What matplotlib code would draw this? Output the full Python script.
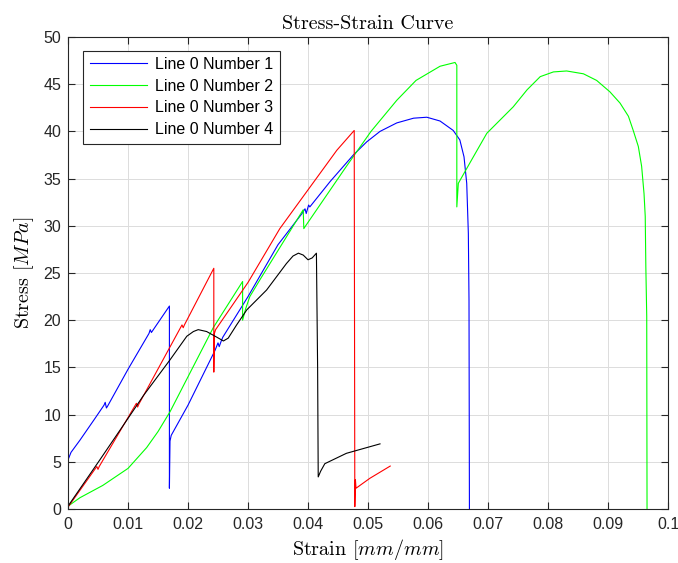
#!/usr/bin/env python3
"""
Stress-strain curves for four specimens, MATLAB-style figure.
"""

import matplotlib
matplotlib.use('Agg')
import matplotlib.pyplot as plt
from matplotlib.ticker import FuncFormatter, MultipleLocator

plt.rcParams['mathtext.fontset'] = 'cm'
plt.rcParams['axes.formatter.use_mathtext'] = True

# Specimen 1 (blue)
strain_1 = [0, 0.0005, 0.002, 0.0045, 0.006, 0.0062, 0.0064, 0.0066, 0.010, 0.0135,
            0.0137, 0.0139, 0.0169, 0.0169, 0.0170, 0.0172, 0.0200, 0.0245, 0.0250,
            0.0252, 0.0256, 0.0258, 0.030, 0.035, 0.0390, 0.0395, 0.0397, 0.0401,
            0.0403, 0.0437, 0.04755, 0.0498, 0.052, 0.0548, 0.0576, 0.0598, 0.062,
            0.0642, 0.0653, 0.0660, 0.06645, 0.06672, 0.06683, 0.0669]
stress_1 = [5.2, 6.0, 7.3, 9.6, 11.0, 11.3, 10.7, 10.9, 14.8, 18.6,
            19.0, 18.7, 21.5, 2.2, 7.2, 7.8, 11.0, 16.8, 17.6,
            17.2, 17.9, 18.2, 22.5, 28.0, 31.3, 31.8, 31.3, 32.2,
            32.0, 34.7, 37.5, 38.9, 40.0, 40.9, 41.4, 41.5, 41.1,
            40.1, 39.1, 37.3, 34.5, 29.2, 22.1, 0]

# Specimen 2 (green)
strain_2 = [0, 0.002, 0.0058, 0.0100, 0.0131, 0.0150, 0.017, 0.0242, 0.0291, 0.0291,
            0.0296, 0.0303, 0.032, 0.0392, 0.0393, 0.0395, 0.0464, 0.0505, 0.0548,
            0.058, 0.062, 0.0645, 0.0648, 0.0648, 0.06505, 0.06755, 0.0698, 0.072,
            0.0742, 0.0765, 0.0787, 0.0809, 0.0831, 0.0859, 0.0881, 0.0903, 0.092,
            0.0934, 0.0942, 0.09505, 0.0956, 0.0960, 0.0962, 0.0963, 0.09645, 0.0965]
stress_2 = [0.3, 1.2, 2.5, 4.3, 6.5, 8.2, 10.3, 19.2, 24.1, 20.0,
            21.2, 22.5, 24.3, 31.7, 29.7, 29.9, 36.3, 40.0, 43.3,
            45.4, 46.9, 47.3, 47.0, 32.0, 34.5, 37.3, 39.8, 41.2,
            42.6, 44.4, 45.8, 46.3, 46.4, 46.1, 45.4, 44.2, 43.0,
            41.6, 40.1, 38.4, 36.3, 33.4, 31.0, 25.7, 20.4, 0]

# Specimen 3 (red)
strain_3 = [0, 0.0048, 0.0050, 0.0052, 0.0114, 0.0116, 0.0118, 0.019, 0.0192, 0.0194,
            0.0243, 0.0243, 0.0244, 0.0246, 0.030, 0.0353, 0.0448, 0.0477, 0.0478,
            0.0479, 0.0480, 0.0503, 0.0537]
stress_3 = [0.2, 4.5, 4.2, 4.5, 11.2, 10.8, 11.1, 19.5, 19.2, 19.5,
            25.5, 14.5, 18.6, 19.0, 24.0, 29.7, 38.0, 40.1, 0.25,
            3.1, 2.2, 3.25, 4.55]

# Specimen 4 (black)
strain_4 = [0, 0.0053, 0.010, 0.01255, 0.017, 0.0198, 0.0209, 0.0217, 0.0231, 0.0248,
            0.0259, 0.0267, 0.0281, 0.0298, 0.0331, 0.0364, 0.0375, 0.0384, 0.0392,
            0.0400, 0.0407, 0.0414, 0.0416, 0.0417, 0.0421, 0.0428, 0.0464, 0.052]
stress_4 = [0.3, 5.2, 9.6, 12.0, 15.8, 18.3, 18.8, 19.0, 18.8, 18.2,
            17.8, 18.1, 19.5, 21.1, 23.2, 26.0, 26.8, 27.1, 26.9,
            26.4, 26.6, 27.1, 15.0, 3.4, 4.0, 4.8, 5.9, 6.9]

labels = ['Line 0 Number 1', 'Line 0 Number 2', 'Line 0 Number 3', 'Line 0 Number 4']
colors = ['#0000ff', '#00ff00', '#ff0000', '#000000']

fig = plt.figure(figsize=(6.78, 5.63), dpi=100)
ax = fig.add_axes([0.1003, 0.0959, 0.8850, 0.8384])

series = [(strain_1, stress_1), (strain_2, stress_2),
          (strain_3, stress_3), (strain_4, stress_4)]
for (xs, ys), lab, col in zip(series, labels, colors):
    ax.plot(xs, ys, color=col, linewidth=0.8, label=lab)

ax.set_xlim(0, 0.1)
ax.set_ylim(0, 50)
ax.xaxis.set_major_locator(MultipleLocator(0.01))
ax.yaxis.set_major_locator(MultipleLocator(5))
ax.xaxis.set_major_formatter(FuncFormatter(lambda v, p: f'{v:g}'))
ax.yaxis.set_major_formatter(FuncFormatter(lambda v, p: f'{v:g}'))

ax.grid(True, color='#dcdcdc', linewidth=0.7)
ax.set_axisbelow(True)
ax.tick_params(direction='in', top=True, right=True, length=5, width=0.8,
               colors='#262626', labelsize=11.5)
ax.tick_params(axis='x', pad=6)
ax.tick_params(axis='y', pad=5)
for lbl in ax.get_xticklabels() + ax.get_yticklabels():
    lbl.set_fontfamily('Liberation Sans')
for sp in ax.spines.values():
    sp.set_color('#262626')
    sp.set_linewidth(0.8)

ax.set_title('Stress-Strain Curve', fontfamily='cmr10', fontsize=14.5, pad=6)
ax.set_xlabel('Strain $[mm/mm]$', fontfamily='cmr10', fontsize=14.5, labelpad=3)
ax.set_ylabel('Stress $[MPa]$', fontfamily='cmr10', fontsize=14.5, labelpad=5)

leg = ax.legend(loc='upper left', bbox_to_anchor=(0.012, 0.988),
                prop={'family': 'Liberation Sans', 'size': 11.5},
                fancybox=False, edgecolor='#262626', framealpha=1,
                handlelength=3.6, borderpad=0.4, labelspacing=0.42,
                handletextpad=0.5)
leg.get_frame().set_linewidth(0.8)

fig.savefig('out.png', dpi=100)
plt.close(fig)
